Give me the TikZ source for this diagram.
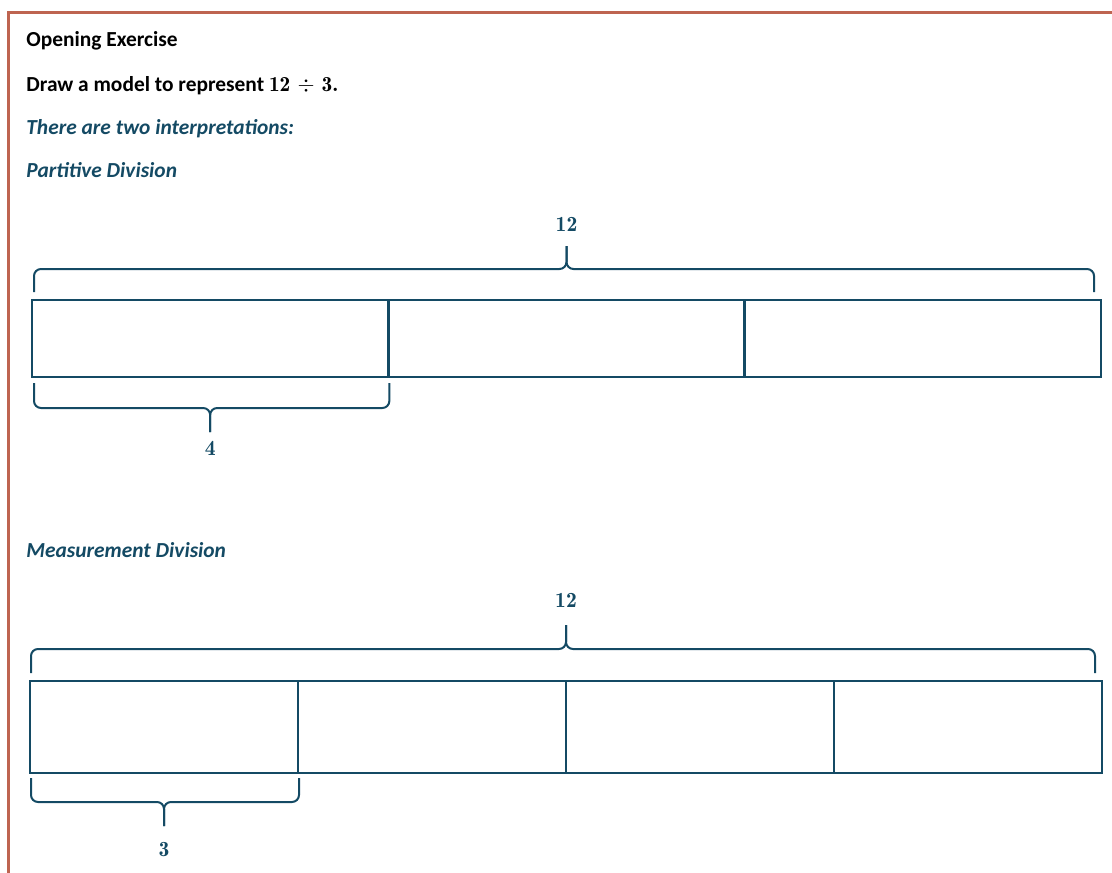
\documentclass[tikz,border=0pt]{standalone}
\usepackage[no-math]{fontspec}
\setmainfont{Carlito}[
  BoldFont=Carlito Bold,
  ItalicFont=Carlito Italic,
  BoldItalicFont=Carlito Bold Italic
]
\usetikzlibrary{positioning, calc}
\definecolor{modelblue}{RGB}{20,74,100}
\definecolor{frameline}{RGB}{190,100,80}
\newcommand\numfont{\fontfamily{lmr}\bfseries\selectfont}
\tikzset{
  heading/.style = {
    anchor=base west, inner sep=0pt,
    font=\fontsize{10.7}{13}\selectfont\bfseries
  },
  interp/.style = {
    heading, text=modelblue,
    font=\fontsize{10.7}{13}\selectfont\bfseries\itshape
  },
  part/.style = {
    draw=modelblue, line width=1.25pt, inner sep=0pt, outer sep=0pt,
    minimum width=178.17pt, minimum height=38.5pt
  },
  piece/.style = {
    part, minimum width=134pt, minimum height=46pt
  },
  brace/.style = {
    draw=modelblue, line width=1pt, rounded corners=3.5pt
  },
  total/.style = {
    text=modelblue, inner sep=0pt, font=\fontsize{10.8}{13}\numfont
  }
}

\begin{document}
\begin{tikzpicture}[x=0.5pt, y=-0.5pt, node distance=0pt]
  \useasboundingbox (0,0) rectangle (1112,872);

  % page frame
  \draw[frameline, line width=1.4pt] (1120,12.5) -- (8.7,12.5) -- (8.7,880);

  % headings
  \node[heading] (title) at (26,47) {Opening Exercise};
  \node[heading] (task) at (26,91) {Draw a model to represent {\numfont 12 $\div$ 3.}};
  \node[interp] (two) at (26,134) {There are two interpretations:};
  \node[interp] (partitive) at (26,177) {Partitive Division};
  \node[interp] (measure) at (26,557) {Measurement Division};

  % Partitive model
  \node[part, anchor=north west] (p1) at (32,300) {};
  \node[part, right=of p1] (p2) {};
  \node[part, right=of p2] (p3) {};

  \draw[brace] ([shift={(2,-8)}]p1.north west) |- ([shift={(0,-31)}]p2.north) -- ([shift={(0,-54)}]p2.north);
  \draw[brace] ([shift={(-7,-8)}]p3.north east) |- ([shift={(0,-31)}]p2.north) -- ([shift={(0,-54)}]p2.north);
  \node[total] (ptotal) at ([shift={(0,-76)}]p2.north) {12};

  \draw[brace] ([shift={(2,6)}]p1.south west) |- ([shift={(0,31)}]p1.south) -- ([shift={(0,55)}]p1.south);
  \draw[brace] ([shift={(1,6)}]p1.south east) |- ([shift={(0,31)}]p1.south) -- ([shift={(0,55)}]p1.south);
  \node[total] (pshare) at ([shift={(0,71)}]p1.south) {4};

  % Measurement model
  \node[piece, anchor=north west] (m1) at (30,681) {};
  \node[piece, right=of m1] (m2) {};
  \node[piece, right=of m2] (m3) {};
  \node[piece, right=of m3] (m4) {};

  \draw[brace] ([shift={(1,-8)}]m1.north west) |- ([shift={(0,-32)}]m2.north east) -- ([shift={(0,-56)}]m2.north east);
  \draw[brace] ([shift={(-7,-8)}]m4.north east) |- ([shift={(0,-32)}]m2.north east) -- ([shift={(0,-56)}]m2.north east);
  \node[total] (mtotal) at ([shift={(0,-81)}]m2.north east) {12};

  \draw[brace] ([shift={(1,5)}]m1.south west) |- ([shift={(0,29)}]m1.south) -- ([shift={(0,53)}]m1.south);
  \draw[brace] ([shift={(1,5)}]m1.south east) |- ([shift={(0,29)}]m1.south) -- ([shift={(0,53)}]m1.south);
  \node[total] (msize) at ([shift={(0,77)}]m1.south) {3};

\end{tikzpicture}
\end{document}
